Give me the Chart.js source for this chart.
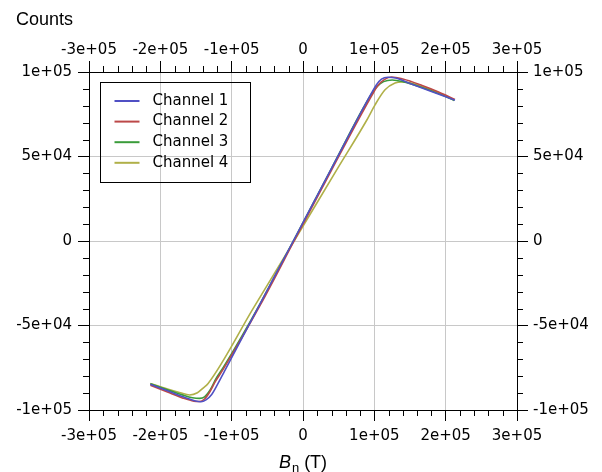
<!DOCTYPE html>
<html>
<head>
<meta charset="utf-8">
<script src="https://cdn.jsdelivr.net/npm/chart.js@4.4.1/dist/chart.umd.min.js"></script>
<style>
  html, body { margin: 0; padding: 0; background: #fff; }
</style>
</head>
<body>
<canvas id="grafico" width="602" height="472"></canvas>
<script>
// Curvas de magnetização, quatro canais (campo em T, contagens)
const canal1Campo = [-214000, -190000, -168000, -152000, -143000, -136000, -128000, -120000, -110000, -60000, -13600, 40000, 96000, 103000, 110000, 119000, 130000, 150000, 180000, 213000];
const canal1Contagens = [-84800, -88600, -92200, -94500, -95100, -94000, -90800, -85000, -77000, -37000, 0, 43000, 87500, 92500, 95800, 96900, 96400, 93200, 88500, 83300];

const canal2Campo = [-214000, -190000, -168000, -153000, -145000, -138000, -131000, -123000, -112000, -60000, -12500, 40000, 97000, 105000, 114000, 124000, 140000, 167000, 190000, 213000];
const canal2Contagens = [-85400, -89400, -93000, -94800, -95000, -93500, -89500, -83200, -76000, -38000, 0, 42000, 86500, 92000, 95500, 97000, 95800, 92000, 88200, 83800];

const canal3Campo = [-214000, -190000, -168000, -155000, -145000, -138000, -130000, -122000, -112000, -60000, -13600, 40000, 96000, 104000, 113000, 125000, 140000, 167000, 190000, 212000];
const canal3Contagens = [-84500, -88000, -91200, -92700, -93100, -92200, -88000, -81500, -75000, -37000, 0, 43000, 87000, 91500, 94300, 95300, 94300, 90800, 87200, 83200];

const canal4Campo = [-214000, -190000, -172000, -159000, -148000, -140000, -133000, -70000, -12500, 50000, 89500, 101000, 115000, 129000, 139000, 150000, 167000, 190000, 211000];
const canal4Contagens = [-84300, -87600, -89800, -91100, -89800, -87000, -84300, -40000, 0, 44000, 71600, 80600, 89500, 93500, 94100, 93600, 91300, 87800, 83600];

const nomesCanais = ["Channel 1", "Channel 2", "Channel 3", "Channel 4"];
const coresCanais = ["#5050c4", "#bc4848", "#3a9c3a", "#b0b048"];

// Eixos
const campoMin = -300000;
const campoMax = 300000;
const campoPasso = 100000;
const campoPassoMenor = 20000;
const contagensMin = -100000;
const contagensMax = 100000;
const contagensPasso = 50000;
const contagensPassoMenor = 10000;

const tituloY = "Counts";
const tituloX = ["B", "n", " (T)"];

function pontos(xs, ys) {
  return xs.map((x, i) => ({ x: x, y: ys[i] }));
}

// 1e+05, -5e+04, 0
function formatoExp(v) {
  if (v === 0) return "0";
  const partes = v.toExponential(0).split("e");
  const sinal = partes[1][0];
  const expoente = partes[1].slice(1).padStart(2, "0");
  return partes[0] + "e" + sinal + expoente;
}

const fonteTicks = { family: "DejaVu Sans", size: 15 };

function gradeCor(ctx) {
  const v = ctx.tick && ctx.tick.value;
  const escala = ctx.scale;
  if (v === escala.min || v === escala.max) return "rgba(0,0,0,0)";
  return "#c8c8c8";
}

// Marcas menores, desenhadas para fora da área do gráfico
const marcasMenores = {
  id: "marcasMenores",
  afterDraw(chart) {
    const ctx = chart.ctx;
    const area = chart.chartArea;
    const len = 6;
    ctx.save();
    ctx.strokeStyle = "#000";
    ctx.lineWidth = 1;
    ctx.beginPath();
    const sx = chart.scales.x;
    for (let v = campoMin; v <= campoMax; v += campoPassoMenor) {
      if (v % campoPasso === 0) continue;
      const px = Math.round(sx.getPixelForValue(v)) + 0.5;
      ctx.moveTo(px, area.bottom);
      ctx.lineTo(px, area.bottom + len);
      ctx.moveTo(px, area.top);
      ctx.lineTo(px, area.top - len);
    }
    const sy = chart.scales.y;
    for (let v = contagensMin; v <= contagensMax; v += contagensPassoMenor) {
      if (v % contagensPasso === 0) continue;
      const py = Math.round(sy.getPixelForValue(v)) + 0.5;
      ctx.moveTo(area.left, py);
      ctx.lineTo(area.left - len, py);
      ctx.moveTo(area.right, py);
      ctx.lineTo(area.right + len, py);
    }
    ctx.stroke();
    ctx.restore();
  },
};

// Legenda com moldura dentro da área do gráfico
const legendaCaixa = {
  id: "legendaCaixa",
  afterDraw(chart) {
    const ctx = chart.ctx;
    const area = chart.chartArea;
    const x0 = area.left + 11.5;
    const y0 = area.top + 10.5;
    const largura = 150;
    const altura = 100;
    ctx.save();
    ctx.strokeStyle = "#000";
    ctx.lineWidth = 1;
    ctx.strokeRect(x0, y0, largura, altura);
    ctx.font = "15px 'DejaVu Sans'";
    ctx.textBaseline = "middle";
    ctx.fillStyle = "#000";
    chart.data.datasets.forEach((ds, i) => {
      const y = y0 + 18.5 + i * 20.6;
      ctx.strokeStyle = ds.borderColor;
      ctx.lineWidth = 2;
      ctx.beginPath();
      ctx.moveTo(x0 + 14, y);
      ctx.lineTo(x0 + 39, y);
      ctx.stroke();
      ctx.fillText(ds.label, x0 + 52, y);
    });
    ctx.restore();
  },
};

// Títulos dos eixos
const titulos = {
  id: "titulos",
  afterDraw(chart) {
    const ctx = chart.ctx;
    const area = chart.chartArea;
    ctx.save();
    ctx.fillStyle = "#000";
    ctx.textBaseline = "alphabetic";
    ctx.font = "18px 'Liberation Sans'";
    ctx.fillText(tituloY, 16, 25);

    const base = 468;
    const fonteB = "italic 18px 'Liberation Sans'";
    const fonteSub = "13px 'Liberation Sans'";
    const fonteResto = "18px 'Liberation Sans'";
    ctx.font = fonteB;
    const wB = ctx.measureText(tituloX[0]).width;
    ctx.font = fonteSub;
    const wN = ctx.measureText(tituloX[1]).width;
    ctx.font = fonteResto;
    const wR = ctx.measureText(tituloX[2]).width;
    const total = wB + wN + 1 + wR;
    let x = (area.left + area.right) / 2 - total / 2;
    ctx.font = fonteB;
    ctx.fillText(tituloX[0], x, base);
    x += wB + 1;
    ctx.font = fonteSub;
    ctx.fillText(tituloX[1], x, base + 4);
    x += wN;
    ctx.font = fonteResto;
    ctx.fillText(tituloX[2], x, base);
    ctx.restore();
  },
};

const canais = [
  [canal1Campo, canal1Contagens],
  [canal2Campo, canal2Contagens],
  [canal3Campo, canal3Contagens],
  [canal4Campo, canal4Contagens],
];

const ctx = document.querySelector("#grafico").getContext("2d");
const grafico = new Chart(ctx, {
  type: "scatter",
  data: {
    datasets: canais.map((c, i) => ({
      label: nomesCanais[i],
      data: pontos(c[0], c[1]),
      borderColor: coresCanais[i],
      backgroundColor: coresCanais[i],
      borderWidth: 1.6,
      showLine: true,
      pointRadius: 0,
      fill: false,
      cubicInterpolationMode: "monotone",
    })),
  },
  options: {
    responsive: false,
    animation: false,
    layout: { padding: 0 },
    plugins: {
      legend: { display: false },
      tooltip: { enabled: false },
    },
    scales: {
      x: {
        type: "linear",
        position: "bottom",
        min: campoMin,
        max: campoMax,
        afterFit: (s) => { s.height = 62; },
        ticks: { stepSize: campoPasso, color: "#000", font: fonteTicks, padding: 6, maxRotation: 0, callback: formatoExp },
        grid: { color: gradeCor, tickColor: "#000", tickLength: 11, lineWidth: 1 },
        border: { color: "#000", width: 1 },
      },
      x2: {
        type: "linear",
        position: "top",
        min: campoMin,
        max: campoMax,
        afterFit: (s) => { s.height = 72; },
        ticks: { stepSize: campoPasso, color: "#000", font: fonteTicks, padding: 2, maxRotation: 0, callback: formatoExp },
        grid: { drawOnChartArea: false, tickColor: "#000", tickLength: 11 },
        border: { color: "#000", width: 1 },
      },
      y: {
        type: "linear",
        position: "left",
        min: contagensMin,
        max: contagensMax,
        afterFit: (s) => { s.width = 89; },
        ticks: { stepSize: contagensPasso, color: "#000", font: fonteTicks, padding: 6, callback: formatoExp },
        grid: { color: gradeCor, tickColor: "#000", tickLength: 11, lineWidth: 1 },
        border: { color: "#000", width: 1 },
      },
      y2: {
        type: "linear",
        position: "right",
        min: contagensMin,
        max: contagensMax,
        afterFit: (s) => { s.width = 85; },
        ticks: { stepSize: contagensPasso, color: "#000", font: fonteTicks, padding: 5, callback: formatoExp },
        grid: { drawOnChartArea: false, tickColor: "#000", tickLength: 11 },
        border: { color: "#000", width: 1 },
      },
    },
  },
  plugins: [marcasMenores, legendaCaixa, titulos],
});
</script>
</body>
</html>
